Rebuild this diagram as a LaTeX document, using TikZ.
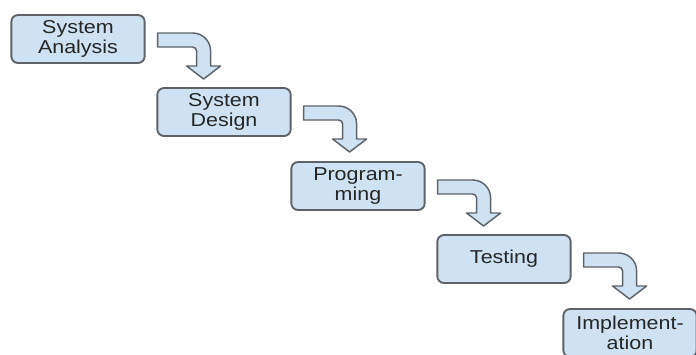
\documentclass[tikz,border=0pt]{standalone}
\usepackage{fontspec}
\usepackage{xcolor}
\newfontfamily\boxfont{Liberation Sans}[FakeStretch=1.15]
\definecolor{boxblue}{HTML}{CFE2F3}
\definecolor{boxline}{HTML}{5F6368}
\definecolor{boxtext}{HTML}{262626}

\newcommand{\bendarrow}[1]{%
  \draw[flowarrow, shift={(#1)}] (0,-7) -- (35,-7) .. controls (45,-7) and (53,1) .. (53,11)
    -- (53,26) -- (63,26) -- (46,39) -- (29,26) -- (39,26) -- (39,11)
    .. controls (39,8.8) and (37.2,7) .. (35,7) -- (0,7) -- cycle;}

\begin{document}
\begin{tikzpicture}[x=0.75pt, y=-0.75pt,
    phase/.style={draw=boxline, line width=1.4pt, fill=boxblue, rounded corners=5pt,
      minimum width=100pt, minimum height=36pt, align=center, text=boxtext,
      font={\boxfont\fontsize{14}{15}\selectfont}},
    flowarrow/.style={draw=boxline, line width=1.1pt, fill=boxblue, line join=round}]
  \useasboundingbox (0,0) rectangle (696,354);
  \fill[white] (0,0) rectangle (696,354);

  \node[phase] (analysis) at (78,39) {System\\Analysis};
  \node[phase] (design) at (224,112) {System\\Design};
  \node[phase] (programming) at (358,186) {Program-\\ming};
  \node[phase] (testing) at (504,259) {Testing};
  \node[phase] (implementation) at (630,333) {Implement-\\ation};

  \foreach \from in {analysis, design, programming, testing} {
    \coordinate[xshift=9pt, yshift=-0.75pt] (start) at (\from.east);
    \bendarrow{start}
  }
\end{tikzpicture}
\end{document}
